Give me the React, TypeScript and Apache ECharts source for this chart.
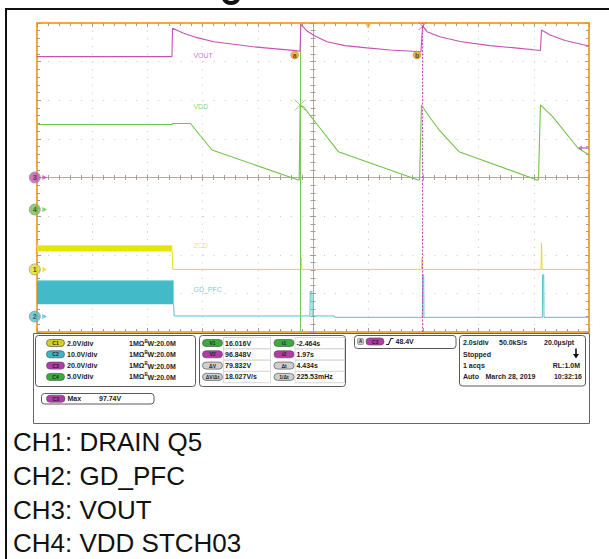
import React, { useEffect, useRef } from "react";
import * as echarts from "echarts";

// ---- Acquisition: 2 s/div, 10 divisions, trigger at t = 0 ----
const timeStart = -12;
const timeEnd = 8;

// ---- Channel set-up ----
const chNumbers = ["1", "2", "3", "4"];
const chNames = ["ZCD", "GD_PFC", "VOUT", "VDD"];
const chScales = [2, 10, 20, 5]; // V/div
const chPositions = [-2.38, -3.6, 0, -0.83]; // div
const chOffsets = [0, 0, 18.5, 2.5]; // V
const chColors = ["#E3DE1E", "#52C1D3", "#C851B7", "#72C24B"];
const chPillColors = ["#D8D11C", "#3FB4C8", "#B13BA8", "#3DAA3D"];

// ---- Cursors ----
const cursorTimes = [-2.464, 1.97];
const cursorVolts = [16.016, 96.848];

// ---- CH3 VOUT ----
const voutT = [-12, -7.11, -7.09, -6.71, -6.28, -5.59, -4.17, -2.62, -2.47, -2.44, -2.22, -1.93, -1.49, -0.84, -0.04, 0.79, 1.91, 1.97, 2.13, 2.6, 3.33, 4.41, 5.32, 6.24, 6.28, 6.59, 7.13, 8];
const voutV = [81.1, 81.1, 95.8, 93.3, 91.2, 88.8, 86.2, 84.2, 83.9, 97.74, 94.4, 91.8, 88.8, 86.8, 85.6, 84.5, 83.6, 96.848, 94.0, 91.4, 88.9, 86.8, 85.6, 84.3, 94.9, 92.3, 89.4, 86.6];

// ---- CH4 VDD ----
const vddT = [-12, -7.11, -7.07, -6.44, -5.66, -2.53, -2.5, -2.464, -2.33, -2.07, -1.75, -1.08, 1.815, 1.86, 1.93, 2.17, 2.6, 3.29, 6.12, 6.17, 6.24, 6.68, 7.6, 8];
const vddV = [13.51, 13.51, 13.64, 13.64, 10.21, 6.33, 6.33, 16.016, 15.78, 14.52, 13.06, 9.99, 6.33, 6.33, 16.04, 14.74, 12.67, 9.99, 6.33, 6.33, 16.04, 14.52, 10.47, 9.56];

// ---- CH1 ZCD ----
const zcdBandT = [-12, -7.1];
const zcdBandLow = [0.93, 0.93];
const zcdBandHigh = [1.24, 1.24];
const zcdT = [-7.1, -7.08, -2.44, -2.42, -2.4, 1.93, 1.95, 1.97, 6.26, 6.28, 6.3, 8];
const zcdV = [0.93, 0, 0, 0.6, 0, 0, 0.6, 0, 0, 1.37, 0, 0];

// ---- CH2 GD_PFC ----
const gdBandT = [-12, -7.05];
const gdBandLow = [3.2, 3.2];
const gdBandHigh = [9.3, 9.3];
const gdT = [-7.05, -7.03, -2.11, -2.1, -2.04, -2.03, -1.22, -1.21, 1.96, 1.97, 2.01, 2.02, 6.31, 6.32, 6.36, 6.37, 8];
const gdV = [3.2, 0.15, 0.15, 6.5, 6.5, 0.15, 0.15, -0.2, -0.2, 10.8, 10.8, -0.2, -0.2, 10.8, 10.8, -0.2, -0.2];

// ---- Readout texts ----
const chPillLabels = ["C1", "C2", "C3", "C4"];
const chScaleTexts = ["2.0V/div", "10.0V/div", "20.0V/div", "5.0V/div"];
const chInputText = "1MΩ";
const chBwText = "W:20.0M";
const cursorLeftLabels = ["V1", "V2", "ΔV", "ΔV/Δt"];
const cursorLeftValues = ["16.016V", "96.848V", "79.832V", "18.027V/s"];
const cursorRightLabels = ["t1", "t2", "Δt", "1/Δt"];
const cursorRightValues = ["-2.464s", "1.97s", "4.434s", "225.53mHz"];
const triggerLevelText = "48.4V";
const horizontalTexts = ["2.0s/div", "50.0kS/s", "20.0µs/pt"];
const acqStateText = "Stopped";
const acqCountText = "1 acqs";
const recordLengthText = "RL:1.0M";
const acqModeText = "Auto";
const dateText = "March 28, 2019";
const clockText = "10:32:16";
const measLabel = "Max";
const measValue = "97.74V";
const captionLines = ["CH1: DRAIN Q5", "CH2: GD_PFC", "CH3: VOUT", "CH4: VDD STCH03"];

// ---- Styling ----
const FONT = '"Liberation Sans", Arial, sans-serif';
const NARROW = '"Liberation Sans Narrow", "Liberation Sans", Arial, sans-serif';
const ORANGE = "#F2A93B";
const TICK = "#A59D92";
const DOT = "#C6C6C6";
const CENTER = "#B3ABA0";
const GRID = { left: 37, top: 23, width: 552, height: 309 };
const DATA_X = 4;
const DATA_Y = 4;

const toDiv = (ch: number, v: number) => chPositions[ch] + (v - chOffsets[ch]) / chScales[ch];
const pairs = (ts: number[], vs: number[], ch: number) => ts.map((t, i) => [t, toDiv(ch, vs[i])]);

function borderAxis(position: string, min: number, max: number, split: any) {
  return {
    type: "value", gridIndex: 0, min, max, interval: 1, position,
    axisLine: { show: true, onZero: false, lineStyle: { color: ORANGE, width: 2 } },
    axisTick: { show: true, inside: true, length: 4, lineStyle: { color: TICK, width: 1 } },
    minorTick: { show: true, splitNumber: 5, length: 3, lineStyle: { color: TICK, width: 1 } },
    axisLabel: { show: false },
    splitLine: split,
  };
}

function centerAxis(position: string, min: number, max: number) {
  return {
    type: "value", gridIndex: 0, min, max, interval: 1, position,
    axisLine: { show: true, onZero: true, onZeroAxisIndex: 0, lineStyle: { color: CENTER, width: 1 } },
    axisTick: { show: true, inside: true, length: 3, lineStyle: { color: TICK, width: 1 } },
    minorTick: { show: true, splitNumber: 5, length: 2.5, lineStyle: { color: TICK, width: 1 } },
    axisLabel: { show: false },
    splitLine: { show: false },
  };
}

function bandSeries(ts: number[], lows: number[], highs: number[], ch: number, color: string, edge: string) {
  return {
    type: "custom",
    xAxisIndex: DATA_X,
    yAxisIndex: DATA_Y,
    z: 3,
    data: [[ts[0], ts[ts.length - 1], toDiv(ch, lows[0]), toDiv(ch, highs[0])]],
    renderItem: (_p: any, api: any) => {
      const a = api.coord([api.value(0), api.value(3)]);
      const b = api.coord([api.value(1), api.value(2)]);
      return {
        type: "group",
        children: [
          { type: "rect", shape: { x: a[0], y: a[1], width: b[0] - a[0], height: b[1] - a[1] }, style: { fill: color } },
          { type: "line", shape: { x1: a[0], y1: a[1], x2: b[0], y2: a[1] }, style: { stroke: edge, lineWidth: 1 } },
        ],
      };
    },
  };
}

function pill(x: number, y: number, w: number, label: string, fill: string) {
  return {
    type: "group",
    x,
    y,
    children: [
      { type: "rect", shape: { x: 0, y: -3.5, width: w, height: 7, r: 3.5 }, style: { fill, stroke: "#555", lineWidth: 0.7 } },
      { type: "text", x: w / 2, y: 0, style: { text: label, fontSize: 5, fontWeight: "bold", fontFamily: FONT, fill: "#222", align: "center", verticalAlign: "middle" } },
    ],
  };
}

function txt(x: number, y: number, text: string, extra: any = {}) {
  return {
    type: "text",
    x,
    y,
    style: { text, fill: "#1c1c1c", fontSize: 7, fontWeight: "bold", fontFamily: FONT, align: "left", verticalAlign: "middle", ...extra },
  };
}

function box(x: number, y: number, w: number, h: number, stroke = "#5a5a5a") {
  return { type: "rect", shape: { x, y, width: w, height: h, r: 3 }, style: { fill: "#fff", stroke, lineWidth: 1 } };
}

function buildGraphics() {
  const g: any[] = [];
  // page frame and the clipped heading glyph above it
  g.push({ type: "rect", shape: { x: 5, y: 8, width: 604, height: 2 }, style: { fill: "#111" } });
  g.push({ type: "rect", shape: { x: 5, y: 8, width: 2, height: 551 }, style: { fill: "#111" } });
  g.push({ type: "arc", shape: { cx: 231, cy: -5, r: 8, startAngle: 0.3, endAngle: 2.84, clockwise: true }, style: { stroke: "#111", lineWidth: 4, fill: "none" } });

  // readout area
  g.push({ type: "rect", shape: { x: 33.5, y: 333.5, width: 556, height: 90 }, style: { fill: "none", stroke: "#666", lineWidth: 1 } });

  // channel settings
  g.push(box(35.5, 335.5, 160, 51));
  const rowY = [343, 354.3, 365.6, 376.9];
  rowY.forEach((y, i) => {
    g.push(pill(46.5, y, 18, chPillLabels[i], chPillColors[i]));
    g.push(txt(67, y, chScaleTexts[i]));
    g.push(txt(129, y, chInputText));
    g.push(txt(144.5, y - 2, "B", { fontSize: 4.5 }));
    g.push(txt(147.5, y + 0.5, chBwText));
  });

  // cursor readouts
  g.push(box(199.5, 335.5, 146, 51));
  rowY.forEach((y, i) => {
    const leftFill = i === 0 ? chPillColors[3] : i === 1 ? chPillColors[2] : "#CFCFCF";
    g.push({ type: "rect", shape: { x: 223.5, y: y - 5.5, width: 47, height: 11.3 }, style: { fill: "none", stroke: "#DADADA", lineWidth: 1 } });
    g.push({ type: "rect", shape: { x: 295, y: y - 5.5, width: 49.5, height: 11.3 }, style: { fill: "none", stroke: "#DADADA", lineWidth: 1 } });
    g.push(pill(202.5, y, 20, cursorLeftLabels[i], leftFill));
    g.push(txt(225, y, cursorLeftValues[i]));
    g.push(pill(274, y, 20, cursorRightLabels[i], leftFill));
    g.push(txt(296.5, y, cursorRightValues[i]));
  });

  // trigger
  g.push(box(354.5, 335.5, 101.5, 13));
  g.push({ type: "rect", shape: { x: 357.5, y: 338.5, width: 6, height: 6, r: 1 }, style: { fill: "#C8C8C8", stroke: "#777", lineWidth: 0.6 } });
  g.push(txt(360.5, 341.5, "A", { fontSize: 4.5, align: "center" }));
  g.push(pill(366, 341.5, 18, chPillLabels[2], chPillColors[2]));
  g.push({ type: "polyline", shape: { points: [[386, 344.5], [388.5, 344.5], [391, 338.5], [393.5, 338.5]] }, style: { stroke: "#222", lineWidth: 1.1, fill: "none" } });
  g.push(txt(395.5, 341.5, triggerLevelText));

  // horizontal / acquisition
  g.push(box(459.5, 335.5, 126, 50.5));
  g.push(txt(463, 342, horizontalTexts[0]));
  g.push(txt(499, 342, horizontalTexts[1]));
  g.push(txt(544, 342, horizontalTexts[2]));
  g.push(txt(463, 354, acqStateText));
  g.push({ type: "line", shape: { x1: 576, y1: 348.5, x2: 576, y2: 355 }, style: { stroke: "#111", lineWidth: 1.6 } });
  g.push({ type: "polygon", shape: { points: [[573, 354], [579, 354], [576, 358.5]] }, style: { fill: "#111" } });
  g.push(txt(463, 365.3, acqCountText));
  g.push(txt(580, 365.3, recordLengthText, { align: "right" }));
  g.push(txt(463, 376.7, acqModeText));
  g.push(txt(485.5, 376.7, dateText));
  g.push(txt(582, 376.7, clockText, { align: "right" }));

  // measurement
  g.push(box(41.5, 393.5, 112.5, 10.5));
  g.push(pill(46.5, 398.7, 18.5, chPillLabels[2], chPillColors[2]));
  g.push(txt(67.5, 398.7, measLabel));
  g.push(txt(99, 398.7, measValue));

  // channel captions
  const capY = [442, 476, 509.5, 542.5];
  captionLines.forEach((line, i) => {
    g.push({ type: "text", x: 13, y: capY[i], style: { text: line, fill: "#111", fontSize: 26, fontFamily: FONT, align: "left", verticalAlign: "middle" } });
  });
  return g;
}

function buildOption() {
  const xSplit = { show: true, lineStyle: { color: DOT, width: 1, type: [1, 6.72] } };
  const ySplit = { show: true, lineStyle: { color: DOT, width: 1, type: [1, 10.04] } };
  const cross = "path://M0,0L10,10M10,0L0,10";
  const labelAnchors = [3.17, 1.85, -1.75, -2.89];
  const labelOrder = [2, 3, 0, 1];

  return {
    animation: false,
    backgroundColor: "#fff",
    textStyle: { fontFamily: FONT },
    grid: [
      { ...GRID, containLabel: false },
      { ...GRID, containLabel: false },
    ],
    xAxis: [
      borderAxis("bottom", -5, 5, xSplit),
      borderAxis("top", -5, 5, { show: false }),
      centerAxis("bottom", -5, 5),
      centerAxis("top", -5, 5),
      { type: "value", gridIndex: 1, min: timeStart, max: timeEnd, show: false, splitLine: { show: false } },
    ],
    yAxis: [
      borderAxis("left", -4, 4, ySplit),
      borderAxis("right", -4, 4, { show: false }),
      centerAxis("left", -4, 4),
      centerAxis("right", -4, 4),
      { type: "value", gridIndex: 1, min: -4, max: 4, show: false, splitLine: { show: false } },
    ],
    series: [
      bandSeries(zcdBandT, zcdBandLow, zcdBandHigh, 0, "#E6E40C", "#EDEB6A"),
      bandSeries(gdBandT, gdBandLow, gdBandHigh, 1, "#42BAC7", "#86D3DC"),
      {
        type: "line", name: chNames[0], xAxisIndex: DATA_X, yAxisIndex: DATA_Y, z: 4,
        data: pairs(zcdT, zcdV, 0), showSymbol: false, symbol: "none",
        lineStyle: { color: chColors[0], width: 1 },
      },
      {
        type: "line", name: chNames[1], xAxisIndex: DATA_X, yAxisIndex: DATA_Y, z: 4,
        data: pairs(gdT, gdV, 1), showSymbol: false, symbol: "none",
        lineStyle: { color: chColors[1], width: 1 },
      },
      {
        type: "line", name: chNames[3], xAxisIndex: DATA_X, yAxisIndex: DATA_Y, z: 5,
        data: pairs(vddT, vddV, 3), showSymbol: false, symbol: "none",
        lineStyle: { color: chColors[3], width: 1.1 },
      },
      {
        type: "line", name: chNames[2], xAxisIndex: DATA_X, yAxisIndex: DATA_Y, z: 5,
        data: pairs(voutT, voutV, 2), showSymbol: false, symbol: "none",
        lineStyle: { color: chColors[2], width: 1.1 },
        markLine: {
          silent: true,
          symbol: ["none", "none"],
          label: { show: false },
          animation: false,
          data: [
            { xAxis: cursorTimes[0], lineStyle: { color: "#7CC657", type: "solid", width: 1 } },
            { xAxis: cursorTimes[1], lineStyle: { color: "#C04DB5", type: [2, 1.5], width: 1 } },
          ],
        },
      },
      // cursor crossings
      {
        type: "scatter", xAxisIndex: DATA_X, yAxisIndex: DATA_Y, z: 6, clip: false,
        symbol: cross,
        data: [
          { value: [cursorTimes[0], toDiv(3, cursorVolts[0])], symbolSize: 11, itemStyle: { color: "none", borderColor: "#7CC657", borderWidth: 1 } },
          { value: [cursorTimes[1], toDiv(2, cursorVolts[1])], symbolSize: 8, itemStyle: { color: "none", borderColor: "#C04DB5", borderWidth: 1 } },
        ],
      },
      // cursor tags
      {
        type: "scatter", xAxisIndex: DATA_X, yAxisIndex: DATA_Y, z: 7,
        symbol: "circle", symbolSize: 8,
        itemStyle: { color: "#F0A020", borderColor: "#C77A10", borderWidth: 0.6 },
        label: { show: true, position: "inside", formatter: (p: any) => (p.dataIndex === 0 ? "a" : "b"), fontSize: 7, fontWeight: "bold", color: "#3a2a10", fontFamily: FONT },
        data: [[cursorTimes[0] - 0.2, 3.17], [cursorTimes[1] - 0.2, 3.17]],
      },
      // trigger position marker
      {
        type: "scatter", xAxisIndex: DATA_X, yAxisIndex: DATA_Y, z: 7, clip: false,
        symbol: "path://M0,0L10,0L5,8Z", symbolSize: [7, 6],
        itemStyle: { color: ORANGE },
        data: [[0, 3.93]],
      },
      // ch3 cursor level arrow
      {
        type: "scatter", xAxisIndex: DATA_X, yAxisIndex: DATA_Y, z: 7, clip: false,
        symbol: "path://M0,5L5,0L5,3.5L14,3.5L14,6.5L5,6.5L5,10Z", symbolSize: [11, 5],
        itemStyle: { color: "#C04DB5" },
        data: [[7.8, 0.764]],
      },
      // trace names
      {
        type: "scatter", xAxisIndex: DATA_X, yAxisIndex: DATA_Y, z: 7,
        symbolSize: 1, itemStyle: { color: "rgba(0,0,0,0)" },
        data: labelOrder.map((ch, i) => ({
          value: [-6.35, labelAnchors[i]],
          label: { show: true, position: "right", distance: 0, formatter: chNames[ch], color: chColors[ch], fontSize: 7, fontFamily: NARROW },
        })),
      },
      // channel ground markers
      {
        type: "scatter", xAxisIndex: 0, yAxisIndex: 0, z: 8, clip: false,
        symbol: "circle", symbolSize: 11,
        data: chNumbers.map((n, i) => ({
          value: [-5.04, chPositions[i]],
          itemStyle: { color: chColors[i], borderColor: "#9C9C9C", borderWidth: 1 },
          label: { show: true, position: "inside", formatter: n, fontSize: 7, fontWeight: "bold", color: "#333", fontFamily: FONT },
        })),
      },
      {
        type: "scatter", xAxisIndex: 0, yAxisIndex: 0, z: 8, clip: false,
        symbol: "path://M0,0L10,5L0,10Z", symbolSize: [5, 5],
        data: chNumbers.map((_n, i) => ({ value: [-4.86, chPositions[i]], itemStyle: { color: chColors[i] } })),
      },
    ],
    graphic: { elements: buildGraphics() },
  };
}

export default function App() {
  const ref = useRef<HTMLDivElement>(null);
  useEffect(() => {
    if (!ref.current) return;
    const chart = echarts.init(ref.current, undefined, { renderer: "svg" });
    chart.setOption(buildOption() as any);
    return () => chart.dispose();
  }, []);
  return (
    <div
      ref={ref}
      style={{ position: "absolute", left: 0, top: 0, width: 609, height: 559, background: "#fff" }}
    />
  );
}
